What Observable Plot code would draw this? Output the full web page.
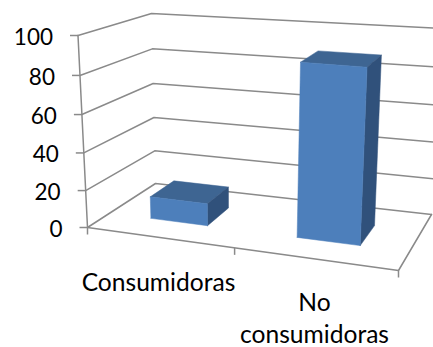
<!DOCTYPE html>
<html>
<head>
<meta charset="utf-8">
<script src="https://cdn.jsdelivr.net/npm/d3@7"></script>
<script src="https://cdn.jsdelivr.net/npm/@observablehq/plot@0.6"></script>
<style>
  html, body { margin: 0; padding: 0; background: #fff; overflow: hidden; }
  svg { display: block; }
</style>
</head>
<body>
<div id="chart"></div>
<script>
// Chart values
const categories = ["Consumidoras", "No consumidoras"];
const values = [12, 90];
const valueTicks = [0, 20, 40, 60, 80, 100];

// Corners of the 3D plot box on screen: [front, back] at [bottom, top] for [left, right]
const box = {
  bottom: { front: [[87, 227], [398, 270]], back: [[155, 183], [431, 214]] },
  top:    { front: [[77.5, 35], [409, 60]], back: [[151, 13], [441, 28]] }
};
const lerp = (a, b, t) => a + (b - a) * t;
const foreshorten = (t, k) => t / (t + k * (1 - t));

// Maps (u along categories, value, depth) to screen coordinates
function project(u, value, depth) {
  const a = foreshorten(u, 1.114);
  const v = foreshorten(value / 100, 1.05);
  const plane = (p) => {
    const f = [lerp(p.front[0][0], p.front[1][0], a), lerp(p.front[0][1], p.front[1][1], a)];
    const b = [lerp(p.back[0][0], p.back[1][0], a), lerp(p.back[0][1], p.back[1][1], a)];
    return [lerp(f[0], b[0], depth), lerp(f[1], b[1], depth)];
  };
  const lo = plane(box.bottom), hi = plane(box.top);
  return [lerp(lo[0], hi[0], v), lerp(lo[1], hi[1], v)];
}

const grid = "#8a8a8a";
const faceColors = { front: "#4d7fbb", top: "#3e6592", side: "#30517b" };
const barHalf = 0.1, depth0 = 0.33, depth1 = 0.7;

// Each bar is three filled faces
function barFaces(i) {
  const c = (i + 0.5) / categories.length;
  const l = c - barHalf, r = c + barHalf, v = values[i];
  return [
    { face: "top", pts: [project(l, v, depth0), project(r, v, depth0), project(r, v, depth1), project(l, v, depth1)] },
    { face: "side", pts: [project(r, 0, depth0), project(r, v, depth0), project(r, v, depth1), project(r, 0, depth1)] },
    { face: "front", pts: [project(l, 0, depth0), project(r, 0, depth0), project(r, v, depth0), project(l, v, depth0)] }
  ];
}

const line = (pts, extra = {}) =>
  Plot.line(pts, { x: (d) => d[0], y: (d) => d[1], stroke: grid, strokeWidth: 1.5, ...extra });

const marks = [];

// Gridlines running along the left wall and the back wall
for (const t of valueTicks) {
  marks.push(line([project(0, t, 0), project(0, t, 1), project(1, t, 1)]));
}
// Floor edges and the value axis
marks.push(line([project(0, 0, 0), project(1, 0, 0), project(1, 0, 1)]));
marks.push(line([project(0, 0, 0), project(0, 100, 0)]));

// Value axis ticks and labels
const valueAnchors = valueTicks.map((t) => ({ t, p: project(0, t, 0) }));
marks.push(Plot.link(valueAnchors, {
  x1: (d) => d.p[0] - 8, x2: (d) => d.p[0],
  y1: (d) => d.p[1], y2: (d) => d.p[1],
  stroke: grid, strokeWidth: 1.5
}));
marks.push(Plot.text(valueAnchors, {
  x: (d) => d.p[0] - 25, y: (d) => d.p[1] + 2,
  text: (d) => String(d.t), textAnchor: "end",
  fontFamily: "Lato", fontSize: 22.5, fill: "#000"
}));

// Category axis ticks
const catTicks = [0, 0.5, 1].map((u) => project(u, 0, 0));
marks.push(Plot.link(catTicks, {
  x1: (d) => d[0], x2: (d) => d[0],
  y1: (d) => d[1], y2: (d) => d[1] + 7,
  stroke: grid, strokeWidth: 1.5
}));

// Bars, drawn back to front within each bar
categories.forEach((_, i) => {
  for (const f of barFaces(i)) {
    marks.push(Plot.line(f.pts.concat([f.pts[0]]), {
      x: (d) => d[0], y: (d) => d[1],
      fill: faceColors[f.face], stroke: faceColors[f.face], strokeWidth: 0.5
    }));
  }
});

// Category labels; the longer one wraps onto two lines
const catLabels = [
  { text: categories[0], x: 158, y: 290 },
  { text: categories[1].split(" ")[0], x: 314, y: 310 },
  { text: categories[1].split(" ")[1], x: 314, y: 342 }
];
marks.push(Plot.text(catLabels, {
  x: "x", y: "y", text: "text", textAnchor: "middle", lineAnchor: "bottom",
  fontFamily: "Lato", fontSize: 24.6, fill: "#000"
}));

const chart = Plot.plot({
  width: 433, height: 347,
  margin: 0,
  x: { domain: [0, 433], range: [0, 433], axis: null },
  y: { domain: [0, 347], range: [0, 347], axis: null },
  style: { background: "#fff" },
  marks
});
document.getElementById("chart").append(chart);
</script>
</body>
</html>
